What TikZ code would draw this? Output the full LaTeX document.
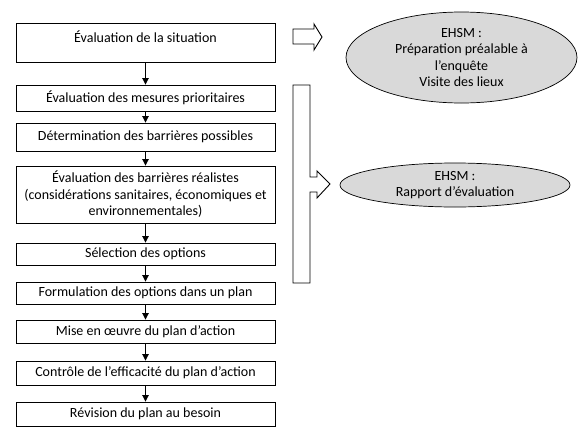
\documentclass[tikz,border=0pt]{standalone}
\usepackage{fontspec}
\setmainfont{Carlito}
\usetikzlibrary{arrows.meta,shapes.geometric}
\definecolor{ellfill}{HTML}{D9D9D9}
\tikzset{
  stepbox/.style={draw=black,line width=0.9pt,rectangle,inner sep=0pt,minimum width=259pt,align=center,font=\fontsize{14}{16.5}\selectfont},
  plain/.style={inner sep=0pt,align=center,font=\fontsize{14}{16.5}\selectfont},
  ehsm/.style={draw=black,line width=0.7pt,ellipse,fill=ellfill,inner sep=0pt,align=center,font=\fontsize{14}{16.5}\selectfont},
  arr/.style={line width=0.9pt,-{Triangle[width=6.5pt,length=6.5pt]}},
  blockarrow/.style={draw=black,line width=0.9pt,line join=miter}
}
\begin{document}
\begin{tikzpicture}[x=1pt,y=-1pt]
\useasboundingbox (0,0) rectangle (581,434);
% left column
\node[stepbox,minimum height=39pt] (b1) at (145.5,42.5) {};
\node[plain] (b1t) at (145.5,37) {Évaluation de la situation};
\node[stepbox,minimum height=26pt] (b2) at (145.5,98) {Évaluation des mesures prioritaires};
\node[stepbox,minimum height=28pt] (b3) at (145.5,137) {Détermination des barrières possibles};
\node[stepbox,minimum height=57pt] (b4) at (145.5,194.5) {Évaluation des barrières réalistes\\(considérations sanitaires, économiques et\\environnementales)};
\node[stepbox,minimum height=22pt] (b5) at (145.5,254) {Sélection des options};
\node[stepbox,minimum height=22pt] (b6) at (145.5,293) {Formulation des options dans un plan};
\node[stepbox,minimum height=23pt] (b7) at (145.5,331.5) {Mise en œuvre du plan d’action};
\node[stepbox,minimum height=24pt] (b8) at (145.5,373) {Contrôle de l'efficacité du plan d’action};
\node[stepbox,minimum height=24pt] (b9) at (145.5,414) {Révision du plan au besoin};
\foreach \a/\b in {b1/b2,b2/b3,b3/b4,b4/b5,b5/b6,b6/b7,b7/b8,b8/b9}
  \draw[arr] (\a.south) -- (\b.north);
% ellipses
\node[ehsm,minimum width=231pt,minimum height=91pt] (e1) at (461.5,57.5) {EHSM :\\Préparation préalable à\\l’enquête\\Visite des lieux};
\node[ehsm,minimum width=230pt,minimum height=44pt] (e2) at (455,185) {EHSM :\\Rapport d’évaluation};
% block arrow to first ellipse
\coordinate (t1) at (322,37);
\draw[blockarrow] (293,29) -- (314,29) -- (314,24) -- (t1) -- (314,50) -- (314,44) -- (293,44) -- cycle;
% bracket arrow to second ellipse
\coordinate (t2) at (330,184);
\draw[blockarrow] (293,85) -- (310,85) -- (310,177) -- (317,177) -- (317,171) -- (t2) -- (317,198) -- (317,192) -- (310,192) -- (310,283) -- (293,283) -- cycle;
\end{tikzpicture}
\end{document}
